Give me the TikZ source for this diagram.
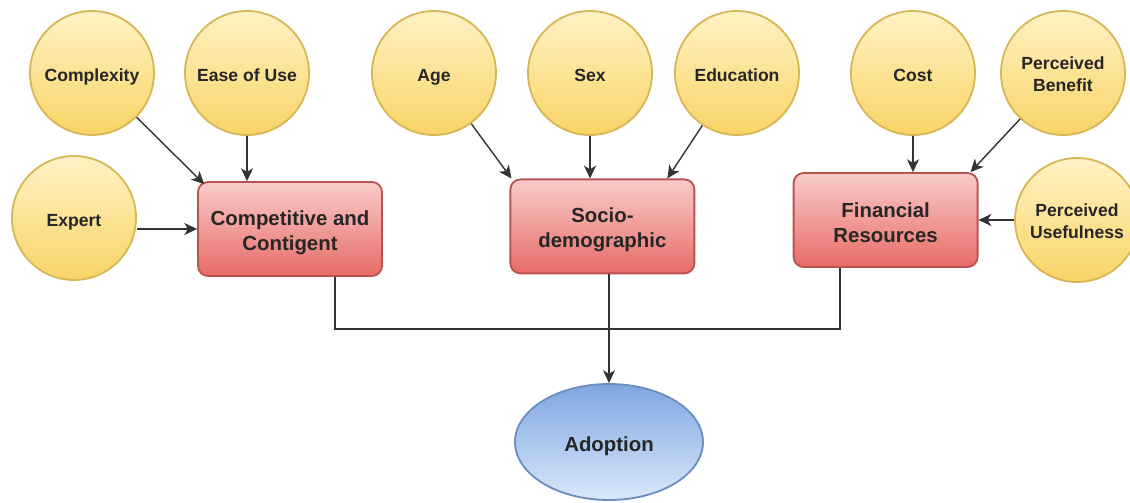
\documentclass[tikz,border=0pt]{standalone}
\usepackage{fontspec}
\setmainfont{Liberation Sans}
\usetikzlibrary{shapes, arrows.meta, positioning, calc}
\definecolor{factorline}{HTML}{D6B656}
\definecolor{factortop}{HTML}{FFF2C4}
\definecolor{factorbot}{HTML}{F9D466}
\definecolor{groupline}{HTML}{B85450}
\definecolor{grouptop}{HTML}{F8CCCA}
\definecolor{groupbot}{HTML}{E86B67}
\definecolor{outline}{HTML}{6C8EBF}
\definecolor{outtop}{HTML}{7EA6E0}
\definecolor{outbot}{HTML}{DAE8FC}
\definecolor{wire}{HTML}{333333}
\newcommand{\capstrut}{\rule[-0.2em]{0pt}{1.35em}}
\newcommand{\pairstrut}{\rule[-2.5pt]{0pt}{31.3pt}}
\newcommand{\groupstrut}{\rule[-2pt]{0pt}{35.5pt}}
\tikzset{
  factor/.style={
    circle, draw=factorline, line width=1.3pt,
    top color=factortop, bottom color=factorbot,
    minimum size=3.1cm, inner sep=0pt, align=center,
    font=\fontsize{12.5}{15.6}\selectfont\bfseries, text=black!85,
    execute at begin node=\capstrut,
  },
  two lines/.style={
    execute at begin node=\pairstrut,
  },
  group/.style={
    rectangle, draw=groupline, line width=1.3pt, rounded corners=0.25cm,
    top color=grouptop, bottom color=groupbot,
    minimum width=4.6cm, minimum height=2.35cm, align=center,
    font=\fontsize{14.5}{17.8}\selectfont\bfseries, text=black!85,
    execute at begin node=\groupstrut,
  },
  outcome/.style={
    ellipse, draw=outline, line width=1.3pt,
    top color=outtop, bottom color=outbot,
    minimum width=4.7cm, minimum height=2.9cm, inner sep=0pt,
    font=\fontsize{14.5}{17.8}\selectfont\bfseries, text=black!85,
    execute at begin node=\capstrut,
  },
  arrow/.style={
    -{Stealth[length=3.2mm, width=3mm, inset=0.9mm]}, line width=1pt, draw=wire,
  },
  wireline/.style={
    line width=1pt, draw=wire,
  }
}

\begin{document}
\begin{tikzpicture}
  \useasboundingbox (0,0) rectangle (28.25,-12.55);

  % Factors on the left
  \node[factor] (cplx)   at ( 2.30,-1.825) {Complexity};
  \node[factor] (ease)   at ( 6.175,-1.825) {Ease of Use};
  \node[factor] (expert) at ( 1.85,-5.45) {Expert};
  \node[group]  (comp)   at ( 7.25,-5.725) {Competitive and\\Contigent};

  \draw[arrow] (cplx) -- ([xshift=0.18cm,yshift=-0.08cm]comp.north west);
  \draw[arrow] (ease) -- (ease |- comp.north);
  \draw[arrow] (comp.west -| expert.east) -- (comp.west);

  % Socio-demographic factors
  \node[factor] (age) at (10.85,-1.825) {Age};
  \node[factor] (sex) at (14.75,-1.825) {Sex};
  \node[factor] (edu) at (18.425,-1.825) {Education};
  \node[group]  (socio) at (15.06,-5.66) {Socio-\\demographic};

  \draw[arrow] (age) -- ([xshift=0.05cm]socio.north west);
  \draw[arrow] (sex) -- (sex |- socio.north);
  \draw[arrow] (edu) -- ([xshift=-0.7cm]socio.north east);

  % Financial factors
  \node[factor] (cost)    at (22.825,-1.825) {Cost};
  \node[factor, two lines] (benefit) at (26.575,-1.825) {Perceived\\Benefit};
  \node[factor, two lines] (useful)  at (26.925,-5.5) {Perceived\\Usefulness};
  \node[group]  (fin)     at (22.14,-5.5) {Financial\\Resources};

  \draw[arrow] (cost) -- (cost |- fin.north);
  \draw[arrow] (benefit) -- ([xshift=-0.2cm]fin.north east);
  \draw[arrow] (useful) -- (fin);

  % Outcome
  \node[outcome] (adopt) at (15.225,-11.05) {Adoption};

  \coordinate (jl) at (8.375,-8.225);
  \coordinate (jr) at (21.0,-8.225);
  \draw[wireline] (comp.south -| jl) -- (jl) -- (jr) -- (fin.south -| jr);
  \draw[arrow] (socio.south -| adopt.north) -- (adopt.north);

\end{tikzpicture}
\end{document}
